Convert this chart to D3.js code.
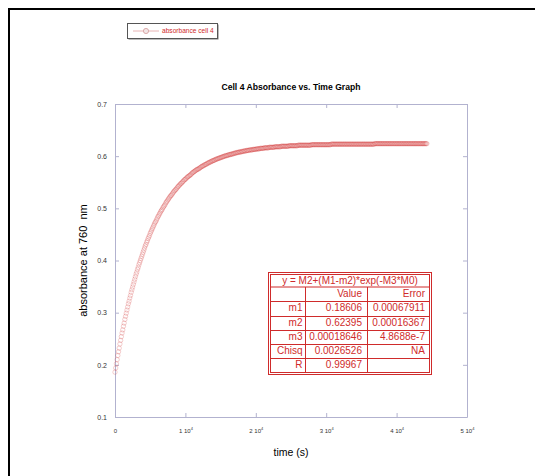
<!DOCTYPE html>
<html><head><meta charset="utf-8">
<script src="https://cdn.jsdelivr.net/npm/d3@7"></script>
<style>
html,body{margin:0;padding:0;background:#fff;overflow:hidden}
svg{display:block;font-family:"Liberation Sans",Arial,Helvetica,sans-serif}
</style>
</head><body>
<svg id="c" width="535" height="476"></svg>
<script>
// ---------------- data ----------------
const timeSec = [
0,100,200,300,400,500,600,700,800,900,
1000,1100,1200,1300,1400,1500,1600,1700,1800,1900,
2000,2100,2200,2300,2400,2500,2600,2700,2800,2900,
3000,3100,3200,3300,3400,3500,3600,3700,3800,3900,
4000,4100,4200,4300,4400,4500,4600,4700,4800,4900,
5000,5100,5200,5300,5400,5500,5600,5700,5800,5900,
6000,6100,6200,6300,6400,6500,6600,6700,6800,6900,
7000,7100,7200,7300,7400,7500,7600,7700,7800,7900,
8000,8100,8200,8300,8400,8500,8600,8700,8800,8900,
9000,9100,9200,9300,9400,9500,9600,9700,9800,9900,
10000,10100,10200,10300,10400,10500,10600,10700,10800,10900,
11000,11100,11200,11300,11400,11500,11600,11700,11800,11900,
12000,12100,12200,12300,12400,12500,12600,12700,12800,12900,
13000,13100,13200,13300,13400,13500,13600,13700,13800,13900,
14000,14100,14200,14300,14400,14500,14600,14700,14800,14900,
15000,15100,15200,15300,15400,15500,15600,15700,15800,15900,
16000,16100,16200,16300,16400,16500,16600,16700,16800,16900,
17000,17100,17200,17300,17400,17500,17600,17700,17800,17900,
18000,18100,18200,18300,18400,18500,18600,18700,18800,18900,
19000,19100,19200,19300,19400,19500,19600,19700,19800,19900,
20000,20100,20200,20300,20400,20500,20600,20700,20800,20900,
21000,21100,21200,21300,21400,21500,21600,21700,21800,21900,
22000,22100,22200,22300,22400,22500,22600,22700,22800,22900,
23000,23100,23200,23300,23400,23500,23600,23700,23800,23900,
24000,24100,24200,24300,24400,24500,24600,24700,24800,24900,
25000,25100,25200,25300,25400,25500,25600,25700,25800,25900,
26000,26100,26200,26300,26400,26500,26600,26700,26800,26900,
27000,27100,27200,27300,27400,27500,27600,27700,27800,27900,
28000,28100,28200,28300,28400,28500,28600,28700,28800,28900,
29000,29100,29200,29300,29400,29500,29600,29700,29800,29900,
30000,30100,30200,30300,30400,30500,30600,30700,30800,30900,
31000,31100,31200,31300,31400,31500,31600,31700,31800,31900,
32000,32100,32200,32300,32400,32500,32600,32700,32800,32900,
33000,33100,33200,33300,33400,33500,33600,33700,33800,33900,
34000,34100,34200,34300,34400,34500,34600,34700,34800,34900,
35000,35100,35200,35300,35400,35500,35600,35700,35800,35900,
36000,36100,36200,36300,36400,36500,36600,36700,36800,36900,
37000,37100,37200,37300,37400,37500,37600,37700,37800,37900,
38000,38100,38200,38300,38400,38500,38600,38700,38800,38900,
39000,39100,39200,39300,39400,39500,39600,39700,39800,39900,
40000,40100,40200,40300,40400,40500,40600,40700,40800,40900,
41000,41100,41200,41300,41400,41500,41600,41700,41800,41900,
42000,42100,42200,42300,42400,42500,42600,42700,42800,42900,
43000,43100,43200,43300,43400,43500,43600,43700,43800,43900,
44000,44100,44200,44300
];
const absorbance = [
.186,.194,.202,.210,.218,.225,.232,.240,.247,.254,
.261,.267,.274,.280,.287,.293,.299,.305,.311,.317,
.322,.328,.333,.339,.344,.349,.354,.359,.364,.369,
.374,.378,.383,.387,.392,.396,.400,.404,.408,.412,
.416,.420,.424,.428,.431,.435,.438,.442,.445,.448,
.452,.455,.458,.461,.464,.467,.470,.473,.475,.478,
.481,.484,.486,.489,.491,.494,.496,.498,.501,.503,
.505,.507,.510,.512,.514,.516,.518,.520,.522,.524,
.525,.527,.529,.531,.533,.534,.536,.537,.539,.541,
.542,.544,.545,.547,.548,.549,.551,.552,.554,.555,
.556,.557,.559,.560,.561,.562,.563,.564,.565,.567,
.568,.569,.570,.571,.572,.573,.574,.575,.575,.576,
.577,.578,.579,.580,.581,.581,.582,.583,.584,.584,
.585,.586,.587,.587,.588,.589,.589,.590,.591,.591,
.592,.592,.593,.594,.594,.595,.595,.596,.596,.597,
.597,.598,.598,.599,.599,.600,.600,.601,.601,.601,
.602,.602,.603,.603,.603,.604,.604,.604,.605,.605,
.606,.606,.606,.607,.607,.607,.608,.608,.608,.608,
.609,.609,.609,.610,.610,.610,.610,.611,.611,.611,
.611,.612,.612,.612,.612,.612,.613,.613,.613,.613,
.613,.614,.614,.614,.614,.614,.615,.615,.615,.615,
.615,.615,.616,.616,.616,.616,.616,.616,.616,.617,
.617,.617,.617,.617,.617,.617,.617,.618,.618,.618,
.618,.618,.618,.618,.618,.618,.619,.619,.619,.619,
.619,.619,.619,.619,.619,.619,.619,.620,.620,.620,
.620,.620,.620,.620,.620,.620,.620,.620,.620,.620,
.621,.621,.621,.621,.621,.621,.621,.621,.621,.621,
.621,.621,.621,.621,.621,.621,.621,.621,.621,.622,
.622,.622,.622,.622,.622,.622,.622,.622,.622,.622,
.622,.622,.622,.622,.622,.622,.622,.622,.622,.622,
.622,.622,.622,.622,.622,.622,.622,.623,.623,.623,
.623,.623,.623,.623,.623,.623,.623,.623,.623,.623,
.623,.623,.623,.623,.623,.623,.623,.623,.623,.623,
.623,.623,.623,.623,.623,.623,.623,.623,.623,.623,
.623,.623,.623,.623,.623,.623,.623,.623,.623,.623,
.623,.623,.623,.623,.623,.623,.623,.623,.623,.623,
.623,.623,.623,.623,.623,.623,.623,.623,.623,.624,
.624,.624,.624,.624,.624,.624,.624,.624,.624,.624,
.624,.624,.624,.624,.624,.624,.624,.624,.624,.624,
.624,.624,.624,.624,.624,.624,.624,.624,.624,.624,
.624,.624,.624,.624,.624,.624,.624,.624,.624,.624,
.624,.624,.624,.624,.624,.624,.624,.624,.624,.624,
.624,.624,.624,.624,.624,.624,.624,.624,.624,.624,
.624,.624,.624,.624,.624,.624,.624,.624,.624,.624,
.624,.624,.624,.624
];
const seriesName = "absorbance cell 4";
const chartTitle = "Cell 4 Absorbance vs. Time Graph";
const xAxisTitle = "time (s)";
const yAxisTitle = "absorbance at 760  nm";
const xTicks = [0, 10000, 20000, 30000, 40000, 50000];
const xTickMantissa = ["0", "1", "2", "3", "4", "5"];
const xTickExponent = ["", "4", "4", "4", "4", "4"];
const yTicks = [0.1, 0.2, 0.3, 0.4, 0.5, 0.6, 0.7];
const fitEquation = "y = M2+(M1-m2)*exp(-M3*M0)";
const fitHeader = ["", "Value", "Error"];
const fitParams = ["m1", "m2", "m3", "Chisq", "R"];
const fitValues = ["0.18606", "0.62395", "0.00018646", "0.0026526", "0.99967"];
const fitErrors = ["0.00067911", "0.00016367", "4.8688e-7", "NA", ""];

// ---------------- drawing ----------------
const svg = d3.select("#c");
const axisColor = "#b2b2cf";
const red = "#cf2b2b";

// outer frame (cropped on right / bottom)
svg.append("rect").attr("x", 9).attr("y", 9).attr("width", 700).attr("height", 700)
  .attr("fill", "none").attr("stroke", "#000").attr("stroke-width", 2);

const x = d3.scaleLinear().domain([0, 50000]).range([115, 467]);
const y = d3.scaleLinear().domain([0.1, 0.7]).range([417, 104]);

function styleAxis(g) {
  g.attr("color", axisColor).attr("font-family", null).attr("font-size", null);
  g.selectAll("text").attr("fill", "#333").style("font-size", "7px");
}
svg.append("g").attr("transform", "translate(0,417)")
  .call(d3.axisBottom(x).tickValues(xTicks).tickSizeInner(-4).tickSizeOuter(0).tickFormat(""))
  .call(styleAxis);
svg.append("g").attr("transform", "translate(0,104)")
  .call(d3.axisTop(x).tickValues(xTicks).tickSizeInner(-4).tickSizeOuter(0).tickFormat(""))
  .call(styleAxis);
svg.append("g").attr("transform", "translate(115,0)")
  .call(d3.axisLeft(y).tickValues(yTicks).tickSizeInner(-4).tickSizeOuter(0).tickPadding(8).tickFormat(d3.format(".1f")))
  .call(styleAxis);
svg.append("g").attr("transform", "translate(467,0)")
  .call(d3.axisRight(y).tickValues(yTicks).tickSizeInner(-4).tickSizeOuter(0).tickFormat(""))
  .call(styleAxis);

// x tick labels with superscripts
const xl = svg.append("g").selectAll("text").data(xTicks).join("text")
  .attr("x", d => x(d) + 0.5).attr("y", 432.5)
  .attr("text-anchor", "middle").attr("fill", "#333").style("font-size", "6px");
xl.append("tspan").text((d, i) => xTickExponent[i] ? xTickMantissa[i] + " 10" : xTickMantissa[i]);
xl.filter((d, i) => xTickExponent[i]).append("tspan")
  .attr("dy", -2.5).style("font-size", "4px").text(d => xTickExponent[xTicks.indexOf(d)]);

// data points
const pts = timeSec.map((t, i) => ({ t, a: absorbance[i] }));
svg.append("g").selectAll("circle").data(pts).join("circle")
  .attr("cx", d => x(d.t)).attr("cy", d => y(d.a)).attr("r", 2.2)
  .attr("fill", "none").attr("stroke", "#d23434").attr("stroke-width", 0.6).attr("stroke-opacity", 0.4);

// titles
svg.append("text").attr("x", 291).attr("y", 90).attr("text-anchor", "middle")
  .style("font-size", "8.6px").style("font-weight", "bold").attr("fill", "#000").text(chartTitle);
svg.append("text").attr("x", 291).attr("y", 456).attr("text-anchor", "middle")
  .style("font-size", "10.5px").attr("fill", "#000").text(xAxisTitle);
svg.append("text").attr("transform", "translate(87,260.5) rotate(-90)").attr("text-anchor", "middle")
  .style("font-size", "11px").style("white-space", "pre").attr("fill", "#000").text(yAxisTitle);

// legend
const lg = svg.append("g");
lg.append("rect").attr("x", 128.5).attr("y", 24.5).attr("width", 90).attr("height", 15).attr("fill", "#777");
lg.append("rect").attr("x", 127.5).attr("y", 23.5).attr("width", 90).attr("height", 15)
  .attr("fill", "#fff").attr("stroke", "#555").attr("stroke-width", 1);
lg.append("line").attr("x1", 133).attr("x2", 159).attr("y1", 31).attr("y2", 31)
  .attr("stroke", "#e8b4b4").attr("stroke-width", 1);
lg.append("circle").attr("cx", 146).attr("cy", 31).attr("r", 2.6)
  .attr("fill", "#f2e6e6").attr("stroke", "#d49a9a").attr("stroke-width", 0.8);
lg.append("text").attr("x", 162).attr("y", 33.4).style("font-size", "6.6px").attr("fill", red).text(seriesName);

// fit table
const tb = svg.append("g");
const tL = 268.5, tR = 431.5, tT = 272.5, tB = 374.5;
const iL = tL + 2, iR = tR - 2, iT = tT + 2, iB = tB - 2;
const headLine = 287;
const rowH = (iB - headLine) / 6;
const colX = [305.5, 367.5];
tb.append("rect").attr("x", tL).attr("y", tT).attr("width", tR - tL).attr("height", tB - tT)
  .attr("fill", "#fff").attr("stroke", red).attr("stroke-width", 1);
tb.append("rect").attr("x", iL).attr("y", iT).attr("width", iR - iL).attr("height", iB - iT)
  .attr("fill", "none").attr("stroke", red).attr("stroke-width", 1);
tb.append("line").attr("x1", iL).attr("x2", iR).attr("y1", headLine).attr("y2", headLine)
  .attr("stroke", red).attr("stroke-width", 1);
for (let i = 1; i < 6; i++) {
  const yy = Math.round(headLine + rowH * i) + 0.5;
  tb.append("line").attr("x1", iL).attr("x2", iR).attr("y1", yy).attr("y2", yy)
    .attr("stroke", red).attr("stroke-width", 1);
}
colX.forEach(cx => tb.append("line").attr("x1", cx).attr("x2", cx).attr("y1", headLine).attr("y2", iB)
  .attr("stroke", red).attr("stroke-width", 1));
tb.append("text").attr("x", (tL + tR) / 2).attr("y", 283.8).attr("text-anchor", "middle")
  .style("font-size", "10px").attr("fill", red).text(fitEquation);
const rows = [fitHeader].concat(fitParams.map((p, i) => [p, fitValues[i], fitErrors[i]]));
const colRight = [302.5, 362, 425];
rows.forEach((r, ri) => {
  const by = headLine + rowH * ri + 10.2;
  r.forEach((txt, ci) => {
    tb.append("text").attr("x", colRight[ci]).attr("y", by).attr("text-anchor", "end")
      .style("font-size", "10px").attr("fill", red).text(txt);
  });
});
</script>
</body></html>
